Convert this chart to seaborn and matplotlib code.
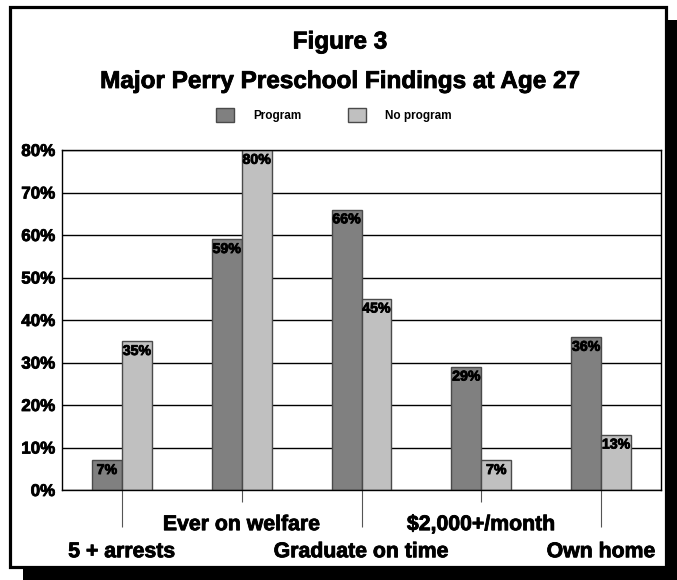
import matplotlib
matplotlib.use("Agg")
import matplotlib.pyplot as plt
from matplotlib.patches import Rectangle
from matplotlib.ticker import FuncFormatter
import matplotlib.patheffects as pe
import seaborn as sns
import pandas as pd

categories = ["5 + arrests", "Ever on welfare", "Graduate on time", "$2,000+/month", "Own home"]
groups = ["Program", "No program"]
program = [7, 59, 66, 29, 36]
no_program = [35, 80, 45, 7, 13]
y_ticks = [0, 10, 20, 30, 40, 50, 60, 70, 80]

df = pd.DataFrame({
    "Category": categories * 2,
    "Group": [groups[0]] * len(categories) + [groups[1]] * len(categories),
    "Value": program + no_program,
})

plt.rcParams["font.family"] = ["Liberation Sans", "DejaVu Sans"]
plt.rcParams["font.weight"] = "bold"

heavy = [pe.withStroke(linewidth=0.6, foreground="black")]

W, H = 677, 580
fig = plt.figure(figsize=(W / 100, H / 100), dpi=100)

# drop shadow + framed white panel
fig.patches.append(Rectangle((23 / W, 0), (W - 23) / W, (H - 20) / H,
                             transform=fig.transFigure, facecolor="black",
                             edgecolor="none", zorder=-3))
fig.patches.append(Rectangle((9.5 / W, 1 - 566.5 / H), 656 / W, 560 / H,
                             transform=fig.transFigure, facecolor="white",
                             edgecolor="black", linewidth=2.3, zorder=-2))

ax = fig.add_axes([62 / W, (H - 490) / H, (661 - 62) / W, (490 - 150) / H])
ax.set_facecolor("white")

sns.barplot(data=df, x="Category", y="Value", hue="Group", order=categories,
            hue_order=groups, palette=["#808080", "#c0c0c0"], width=0.5,
            edgecolor="#4a4a4a", linewidth=1, saturation=1, ax=ax, legend=True)

ax.set_ylim(0, 80)
ax.set_xlim(-0.5, len(categories) - 0.5)
ax.set_yticks(y_ticks)
ax.yaxis.set_major_formatter(FuncFormatter(lambda v, p: f"{int(v)}%"))
ax.grid(axis="y", color="black", linewidth=1)
ax.grid(axis="x", visible=False)
ax.set_axisbelow(True)
for s in ax.spines.values():
    s.set_color("black")
    s.set_linewidth(1)
ax.set_xlabel("")
ax.set_ylabel("")
ax.tick_params(axis="y", length=0, pad=5, labelsize=12.2)
for t in ax.get_yticklabels():
    t.set_fontweight("bold")
    t.set_path_effects(heavy)

# staggered category labels using major/minor ticks
ax.set_xticks([0, 2, 4])
ax.set_xticklabels([categories[i] for i in (0, 2, 4)])
ax.set_xticks([1, 3], minor=True)
ax.set_xticklabels([categories[i] for i in (1, 3)], minor=True)
ax.tick_params(axis="x", which="major", length=26.6, width=0.8, color="#555555",
               pad=11, labelsize=15.3)
ax.tick_params(axis="x", which="minor", length=8.6, width=0.8, color="#555555",
               pad=9.5, labelsize=15.3)
for t in ax.get_xticklabels() + ax.get_xticklabels(minor=True):
    t.set_fontweight("bold")
    t.set_path_effects(heavy)

# value labels inside bar tops
for cont in ax.containers:
    for bar in cont:
        h = bar.get_height()
        ax.annotate(f"{int(round(h))}%", (bar.get_x() + bar.get_width() / 2, h),
                    xytext=(0, -2), textcoords="offset points", ha="center",
                    va="top", fontsize=10.2, fontweight="bold", color="black",
                    path_effects=heavy)

# legend
handles, labels = ax.get_legend_handles_labels()
leg = ax.legend(handles, labels, loc="center", bbox_to_anchor=(334 / W, 1 - 115 / H),
                bbox_transform=fig.transFigure, ncol=2, frameon=False, fontsize=8.5,
                handlelength=1.5, handleheight=1.5, handletextpad=1.6,
                columnspacing=4.0)
for t in leg.get_texts():
    t.set_fontweight("bold")

fig.text(340 / W, 1 - 42 / H, "Figure 3", ha="center", va="center",
         fontsize=17.5, fontweight="bold", path_effects=heavy)
fig.text(340 / W, 1 - 81.5 / H, "Major Perry Preschool Findings at Age 27",
         ha="center", va="center", fontsize=17.5, fontweight="bold",
         path_effects=heavy)

fig.savefig("out.png", dpi=100)
